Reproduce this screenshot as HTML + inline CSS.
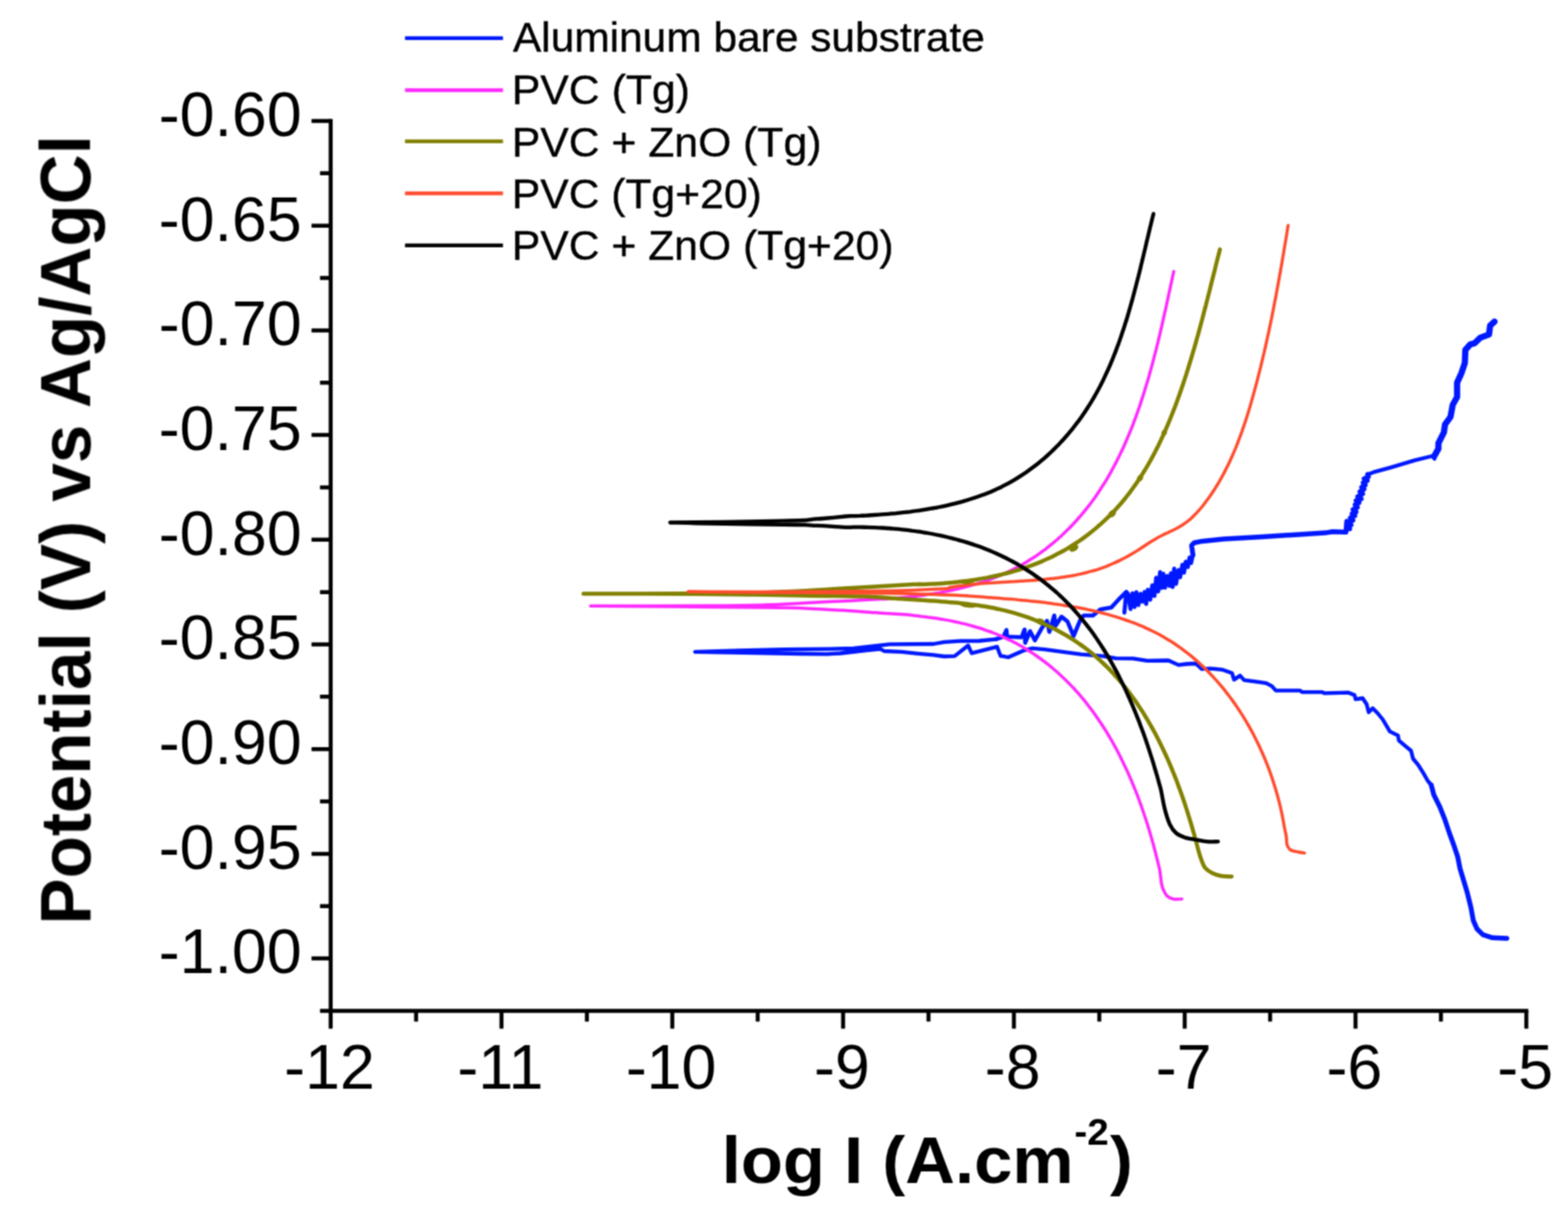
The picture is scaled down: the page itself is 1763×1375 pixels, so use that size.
<!DOCTYPE html>
<html><head><meta charset="utf-8"><style>
html,body{margin:0;padding:0;background:#fff;}
svg{display:block}
.tl{font-family:'Liberation Sans', sans-serif;font-size:70.5px;fill:#000}
.at{font-family:'Liberation Sans',sans-serif;font-weight:bold;font-size:77px;fill:#000}
.lg{font-family:'Liberation Sans',sans-serif;font-size:45.5px;fill:#000;stroke:#000;stroke-width:0.4px}
</style></head><body>
<svg width="1763" height="1375" viewBox="0 0 1763 1375">
<defs><filter id="bl" x="0" y="0" width="1763" height="1375" filterUnits="userSpaceOnUse" color-interpolation-filters="sRGB"><feConvolveMatrix order="3" kernelMatrix="1 2 1 2 4 2 1 2 1" divisor="16" edgeMode="duplicate"/></filter></defs>
<rect width="1763" height="1375" fill="#fff"/>
<g filter="url(#bl)">
<path d="M371.8 133.75V1138.65M369.55 1136.4H1718.4" stroke="#000" stroke-width="4.5" fill="none"/>
<path d="M350.3 136.00H371.8M359.8 194.85H371.8M350.3 253.70H371.8M359.8 312.55H371.8M350.3 371.40H371.8M359.8 430.25H371.8M350.3 489.10H371.8M359.8 547.95H371.8M350.3 606.80H371.8M359.8 665.65H371.8M350.3 724.50H371.8M359.8 783.35H371.8M350.3 842.20H371.8M359.8 901.05H371.8M350.3 959.90H371.8M359.8 1018.75H371.8M350.3 1077.60H371.8M359.8 1136.45H371.8M371.80 1136.4V1156.4M467.83 1136.4V1148.4M563.85 1136.4V1156.4M659.88 1136.4V1148.4M755.90 1136.4V1156.4M851.92 1136.4V1148.4M947.95 1136.4V1156.4M1043.98 1136.4V1148.4M1140.00 1136.4V1156.4M1236.03 1136.4V1148.4M1332.05 1136.4V1156.4M1428.08 1136.4V1148.4M1524.10 1136.4V1156.4M1620.12 1136.4V1148.4M1716.15 1136.4V1156.4" stroke="#000" stroke-width="4.5" fill="none"/>
<text x="339.3" y="152.8" text-anchor="end" class="tl">-0.60</text>
<text x="339.3" y="270.5" text-anchor="end" class="tl">-0.65</text>
<text x="339.3" y="388.2" text-anchor="end" class="tl">-0.70</text>
<text x="339.3" y="505.9" text-anchor="end" class="tl">-0.75</text>
<text x="339.3" y="623.6" text-anchor="end" class="tl">-0.80</text>
<text x="339.3" y="741.3" text-anchor="end" class="tl">-0.85</text>
<text x="339.3" y="859.0" text-anchor="end" class="tl">-0.90</text>
<text x="339.3" y="976.7" text-anchor="end" class="tl">-0.95</text>
<text x="339.3" y="1094.4" text-anchor="end" class="tl">-1.00</text>
<text x="370.5" y="1224" text-anchor="middle" class="tl">-12</text>
<text x="562.6" y="1224" text-anchor="middle" class="tl">-11</text>
<text x="754.6" y="1224" text-anchor="middle" class="tl">-10</text>
<text x="946.7" y="1224" text-anchor="middle" class="tl">-9</text>
<text x="1138.7" y="1224" text-anchor="middle" class="tl">-8</text>
<text x="1330.8" y="1224" text-anchor="middle" class="tl">-7</text>
<text x="1522.8" y="1224" text-anchor="middle" class="tl">-6</text>
<text x="1714.9" y="1224" text-anchor="middle" class="tl">-5</text>
<text transform="translate(101.3 1039.5) rotate(-90) scale(0.985 1)" class="at" style="font-size:79px">Potential (V) vs Ag/AgCl</text>
<text transform="translate(811.5 1330) scale(1.032 1)" class="at" style="font-size:75px">log I (A.cm</text>
<text transform="translate(1208.0 1286.5) scale(1.032 1)" class="at" style="font-size:42px">-2</text>
<text transform="translate(1248.0 1330) scale(1.032 1)" class="at" style="font-size:75px">)</text>
<path d="M455.4 42.8H565.5" stroke="#0018ff" stroke-width="4.3"/>
<text transform="translate(576.7 57.7) scale(1.0495 1)" class="lg">Aluminum bare substrate</text>
<path d="M455.4 101.3H565.5" stroke="#ff28ff" stroke-width="4.3"/>
<text transform="translate(575.5 116.7) scale(1.0562 1)" class="lg">PVC (Tg)</text>
<path d="M455.4 158.9H565.5" stroke="#818000" stroke-width="4.3"/>
<text transform="translate(575.5 175.7) scale(1.0553 1)" class="lg">PVC + ZnO (Tg)</text>
<path d="M455.4 217.4H565.5" stroke="#ff4b2d" stroke-width="4.3"/>
<text transform="translate(575.5 233.7) scale(1.0538 1)" class="lg">PVC (Tg+20)</text>
<path d="M455.4 275.8H565.5" stroke="#000" stroke-width="4.3"/>
<text transform="translate(575.5 291.8) scale(1.0543 1)" class="lg">PVC + ZnO (Tg+20)</text>
<path d="M1680.3,361.7L1675.4,366.1 1674.2,376.0 1664.3,379.7 1658.1,385.8 1653.2,387.1 1647.6,393.3 1647.0,408.1 1643.3,419.2 1638.3,430.3 1638.3,446.4 1633.4,455.1 1630.9,468.7 1624.7,477.3 1623.5,486.0 1617.3,498.3 1617.3,504.5 1612.4,513.2" stroke="#0018ff" stroke-width="7" fill="none" stroke-linejoin="round" stroke-linecap="round"/>
<path d="M1612.4,513.2L1612.9,515.9 1611.2,512.5 1590.3,517.6 1565.3,525.1 1544.3,530.9 1537.7,533.4" stroke="#0018ff" stroke-width="4.3" fill="none" stroke-linejoin="round" stroke-linecap="round"/>
<path d="M1537.7,533.4L1538.6,536.0 1533.8,538.2 1537.3,540.3 1532.8,542.7 1535.0,545.3 1531.0,547.8 1533.7,549.9 1529.1,552.9 1532.1,555.2 1526.6,558.3 1530.5,560.8 1524.7,562.9 1528.0,565.2 1523.7,567.4 1526.2,570.3 1521.3,573.0 1524.7,575.5 1520.3,577.6 1523.3,579.8 1518.3,582.3 1521.2,585.0 1516.0,587.4 1519.1,590.2 1514.3,592.9 1517.6,594.5 1514.2,586.1 1513.4,598.2 1498.4,597.8 1490.0,599.1 1463.6,600.7 1420.0,603.6 1376.0,606.0 1352.0,608.4 1342.7,610.2 1339.8,613.1 1341.3,624.0" stroke="#0018ff" stroke-width="5.5" fill="none" stroke-linejoin="round" stroke-linecap="round"/>
<path d="M1341.3,624.0L1341.0,624.8 1339.2,633.0 1337.5,626.8 1335.5,637.5 1333.3,631.5 1331.2,643.8 1329.5,634.9 1326.9,648.9 1325.0,640.9 1322.3,656.4 1320.2,639.3 1318.5,659.9 1316.6,644.5 1314.8,658.6 1312.3,647.5 1310.0,660.7 1307.9,645.0 1306.2,660.9 1304.4,643.2 1302.3,664.9 1300.0,649.5 1298.0,670.0 1295.6,658.1 1293.3,674.2 1290.6,663.1 1288.7,678.9 1286.9,665.5 1284.4,676.5 1282.3,667.7 1279.9,680.2 1277.6,665.7 1275.6,682.5 1273.3,667.1 1271.1,684.7 1268.4,668.0 1266.4,665.5 1264.2,688.7 1266.4,665.5 1257.6,674.2 1249.6,682.9 1240.9,684.4 1237.1,685.2 1228.9,692.0 1218.7,692.0 1215.3,695.4 1207.1,715.2 1200.3,698.8 1193.5,693.4 1186.7,703.6 1185.4,692.0 1179.9,710.4 1177.2,698.1 1171.7,705.6 1163.6,719.9 1158.1,709.7 1152.7,722.7 1152.0,707.7 1148.6,716.5 1132.3,715.8 1131.6,708.4 1128.2,715.8 1120.0,718.6" stroke="#0018ff" stroke-width="4.6" fill="none" stroke-linejoin="round" stroke-linecap="round"/>
<path d="M1120.0,718.6L1101.2,720.5 1080.0,720.6 1061.5,721.8 1049.6,724.0 1000.0,724.4 960.0,729.0 933.0,729.6 882.0,730.2 831.0,731.5 781.5,732.9 850.0,734.2 900.0,735.0 930.0,735.3 945.0,734.5 975.0,731.0 990.0,729.6 994.0,732.0 1013.8,732.8 1032.1,734.8 1049.6,736.4 1061.5,738.0 1073.4,737.6 1088.5,725.7 1092.5,734.4 1121.1,727.2 1125.0,737.6 1126.8,737.6 1133.6,739.0 1150.6,731.5 1160.8,728.8 1174.5,730.1 1194.9,732.9 1215.3,735.6 1240.0,737.6 1254.8,740.2 1274.0,740.3 1290.0,742.9 1313.7,742.5 1325.1,747.6 1334.2,746.5 1344.4,746.0 1351.2,752.2 1361.4,751.6 1373.9,752.8 1385.2,756.7 1387.5,764.1 1394.3,759.6 1398.8,764.7 1415.8,766.9 1423.8,768.1 1430.0,771.3 1434.5,776.4 1461.8,776.4 1464.0,778.2 1486.7,778.2 1489.0,779.3 1516.2,778.7 1523.0,781.6 1524.2,786.1 1532.1,785.0 1536.6,791.8 1538.9,800.8 1543.4,796.3 1549.1,802.0 1554.8,809.0 1562.7,822.4 1571.8,826.9 1572.9,832.6 1580.9,839.4 1586.5,844.0 1588.8,853.0 1594.5,859.8 1600.2,868.9 1605.4,878.0 1609.2,882.5" stroke="#0018ff" stroke-width="4.3" fill="none" stroke-linejoin="round" stroke-linecap="round"/>
<path d="M1609.2,882.5L1612.1,893.5 1618.8,906.9 1624.2,920.4 1629.6,936.5 1635.0,951.3 1639.0,963.4 1641.7,976.9 1645.8,990.4 1649.8,1003.8 1653.8,1020.0 1656.5,1034.8 1660.6,1044.2 1667.3,1050.9 1678.1,1054.3 1694.2,1055.0" stroke="#0018ff" stroke-width="5.5" fill="none" stroke-linejoin="round" stroke-linecap="round"/>
<path d="M1319.7,305.3C1319.4,306.6 1318.6,310.5 1318.0,313.1C1317.5,315.7 1316.9,318.3 1316.3,320.9C1315.8,323.5 1315.2,326.1 1314.6,328.7C1314.0,331.3 1313.5,334.0 1312.9,336.6C1312.3,339.3 1311.8,341.9 1311.2,344.6C1310.6,347.2 1310.0,349.9 1309.4,352.5C1308.8,355.2 1308.2,357.8 1307.6,360.5C1307.0,363.2 1306.4,365.8 1305.8,368.5C1305.1,371.2 1304.5,373.9 1303.9,376.5C1303.2,379.2 1302.6,381.9 1302.0,384.6C1301.3,387.2 1300.6,389.9 1300.0,392.6C1299.3,395.3 1298.6,398.0 1297.9,400.6C1297.2,403.3 1296.5,406.0 1295.8,408.7C1295.1,411.3 1294.4,414.0 1293.6,416.7C1292.9,419.3 1292.1,422.0 1291.4,424.7C1290.6,427.3 1289.8,430.0 1289.0,432.6C1288.2,435.3 1287.4,437.9 1286.6,440.6C1285.8,443.2 1284.9,445.8 1284.1,448.4C1283.2,451.1 1282.3,453.7 1281.5,456.3C1280.6,458.9 1279.7,461.5 1278.7,464.1C1277.8,466.7 1276.9,469.3 1275.9,471.9C1274.9,474.4 1274.0,477.0 1273.0,479.6C1272.0,482.1 1270.9,484.6 1269.9,487.2C1268.9,489.7 1267.8,492.2 1266.7,494.7C1265.6,497.2 1264.5,499.7 1263.4,502.2C1262.3,504.7 1261.1,507.2 1259.9,509.6C1258.8,512.1 1257.6,514.5 1256.3,516.9C1255.1,519.4 1253.9,521.8 1252.6,524.1C1251.3,526.5 1250.0,528.9 1248.7,531.3C1247.4,533.6 1246.0,536.0 1244.7,538.3C1243.3,540.6 1241.9,542.9 1240.4,545.2C1239.0,547.5 1237.5,549.7 1236.0,552.0C1234.6,554.2 1233.0,556.5 1231.5,558.7C1230.0,560.9 1228.4,563.0 1226.8,565.2C1225.2,567.4 1223.5,569.5 1221.8,571.6C1220.2,573.7 1218.5,575.8 1216.7,577.9C1215.0,580.0 1213.2,582.0 1211.4,584.0C1209.6,586.0 1207.8,588.0 1205.9,590.0C1204.1,592.0 1202.2,593.9 1200.2,595.8C1198.3,597.7 1196.3,599.6 1194.3,601.5C1192.3,603.3 1190.3,605.2 1188.3,607.0C1186.2,608.7 1184.1,610.5 1182.0,612.2C1179.9,613.9 1177.8,615.6 1175.6,617.3C1173.4,618.9 1171.2,620.6 1169.0,622.1C1166.8,623.7 1164.6,625.3 1162.3,626.8C1160.0,628.3 1157.7,629.7 1155.4,631.1C1153.1,632.6 1150.7,633.9 1148.4,635.3C1146.0,636.6 1143.6,637.9 1141.2,639.1C1138.8,640.4 1136.4,641.6 1133.9,642.8C1131.5,643.9 1129.0,645.0 1126.5,646.1C1124.0,647.2 1121.5,648.2 1119.0,649.2C1116.5,650.2 1113.9,651.1 1111.3,652.1C1108.8,653.0 1106.2,653.9 1103.6,654.7C1101.0,655.5 1098.4,656.3 1095.8,657.1C1093.2,657.9 1090.6,658.6 1087.9,659.3C1085.3,660.0 1082.7,660.7 1080.0,661.4C1077.3,662.0 1074.7,662.6 1072.0,663.2C1069.3,663.8 1066.6,664.3 1064.0,664.9C1061.3,665.4 1058.6,665.9 1055.9,666.4C1053.2,666.8 1050.5,667.3 1047.8,667.7C1045.1,668.1 1042.3,668.5 1039.6,668.9C1036.9,669.3 1034.2,669.6 1031.5,670.0C1028.8,670.3 1026.1,670.6 1023.4,670.9C1020.6,671.2 1017.9,671.5 1015.2,671.7C1012.5,672.0 1009.8,672.2 1007.1,672.4C1004.4,672.7 1001.7,672.9 999.0,673.1C996.4,673.3 998.3,673.2 991.0,673.6C983.7,674.0 965.2,674.9 955.3,675.4C945.4,675.9 941.4,676.1 931.5,676.6C921.6,677.1 907.6,677.8 895.7,678.4C883.8,679.0 876.0,679.7 860.0,680.1C844.0,680.5 832.7,680.8 800.0,681.0C767.3,681.2 686.7,681.2 664.0,681.2L664.0,681.2C680.0,681.3 727.3,681.7 760.0,682.0C792.7,682.3 837.4,682.9 860.0,683.1C882.6,683.4 881.8,683.0 895.7,683.5C909.6,684.0 929.5,685.3 943.4,686.1C957.3,686.9 971.8,688.0 979.1,688.5C986.4,689.0 984.4,688.8 987.0,688.9C989.7,689.0 992.4,689.2 995.1,689.4C997.7,689.5 1000.4,689.7 1003.1,689.9C1005.8,690.1 1008.5,690.3 1011.2,690.5C1014.0,690.7 1016.7,690.9 1019.4,691.1C1022.1,691.4 1024.8,691.7 1027.6,691.9C1030.3,692.2 1033.0,692.5 1035.7,692.9C1038.5,693.2 1041.2,693.5 1043.9,693.9C1046.6,694.2 1049.4,694.6 1052.1,695.0C1054.8,695.5 1057.5,695.9 1060.2,696.4C1062.9,696.9 1065.6,697.3 1068.3,697.9C1071.0,698.4 1073.7,699.0 1076.4,699.5C1079.0,700.1 1081.7,700.7 1084.4,701.4C1087.0,702.1 1089.6,702.7 1092.3,703.5C1094.9,704.2 1097.5,705.0 1100.1,705.8C1102.7,706.5 1105.3,707.4 1107.8,708.3C1110.4,709.1 1112.9,710.1 1115.5,711.0C1118.0,712.0 1120.5,713.0 1123.0,714.0C1125.5,715.1 1127.9,716.2 1130.4,717.3C1132.8,718.4 1135.2,719.6 1137.6,720.8C1140.0,722.0 1142.4,723.3 1144.7,724.6C1147.1,725.9 1149.4,727.2 1151.7,728.6C1154.0,730.0 1156.3,731.4 1158.5,732.8C1160.8,734.3 1163.0,735.8 1165.2,737.3C1167.4,738.8 1169.6,740.4 1171.8,742.0C1173.9,743.6 1176.0,745.2 1178.2,746.9C1180.3,748.5 1182.3,750.2 1184.4,752.0C1186.4,753.7 1188.4,755.4 1190.4,757.2C1192.4,759.0 1194.4,760.9 1196.3,762.7C1198.3,764.6 1200.2,766.5 1202.1,768.4C1204.0,770.3 1205.8,772.3 1207.6,774.2C1209.5,776.2 1211.3,778.2 1213.0,780.2C1214.8,782.3 1216.5,784.3 1218.3,786.4C1220.0,788.5 1221.7,790.6 1223.3,792.8C1225.0,794.9 1226.6,797.1 1228.2,799.2C1229.8,801.4 1231.4,803.6 1233.0,805.9C1234.5,808.1 1236.0,810.3 1237.5,812.6C1239.1,814.9 1240.5,817.2 1242.0,819.5C1243.4,821.8 1244.9,824.1 1246.3,826.5C1247.7,828.8 1249.0,831.2 1250.4,833.5C1251.7,835.9 1253.1,838.3 1254.4,840.7C1255.7,843.2 1257.0,845.6 1258.2,848.0C1259.5,850.5 1260.7,852.9 1261.9,855.4C1263.1,857.9 1264.3,860.4 1265.5,862.9C1266.6,865.3 1267.8,867.8 1268.9,870.4C1270.0,872.9 1271.1,875.4 1272.2,877.9C1273.3,880.5 1274.3,883.0 1275.4,885.6C1276.4,888.1 1277.4,890.7 1278.4,893.2C1279.4,895.8 1280.4,898.4 1281.3,901.0C1282.2,903.5 1283.2,906.1 1284.1,908.7C1285.0,911.3 1285.9,913.9 1286.7,916.5C1287.6,919.1 1288.5,921.7 1289.3,924.2C1290.1,926.8 1290.9,929.4 1291.7,932.0C1292.5,934.6 1293.3,937.2 1294.0,939.8C1294.8,942.4 1295.5,945.0 1296.2,947.6C1297.0,950.2 1297.6,952.8 1298.3,955.4C1299.0,958.0 1299.7,960.5 1300.3,963.1C1301.0,965.7 1301.6,968.3 1302.2,970.8C1302.8,973.4 1303.3,974.5 1304.0,978.5C1304.7,982.5 1305.4,990.8 1306.2,994.7C1307.0,998.7 1307.8,1000.1 1308.9,1002.2C1310.0,1004.4 1310.9,1006.2 1312.6,1007.6C1314.3,1009.0 1316.4,1010.3 1319.1,1010.8C1321.8,1011.3 1327.2,1010.8 1328.8,1010.8" stroke="#ff28ff" stroke-width="3.5" fill="none" stroke-linejoin="round" stroke-linecap="round"/>
<path d="M1371.6,280.4C1371.3,281.7 1370.3,285.7 1369.6,288.3C1368.9,290.9 1368.3,293.6 1367.6,296.2C1367.0,298.8 1366.3,301.4 1365.7,304.1C1365.0,306.7 1364.3,309.3 1363.7,311.9C1363.0,314.6 1362.4,317.2 1361.7,319.8C1361.1,322.4 1360.4,325.0 1359.8,327.6C1359.1,330.3 1358.4,332.9 1357.8,335.5C1357.1,338.1 1356.4,340.7 1355.8,343.3C1355.1,345.9 1354.4,348.5 1353.7,351.1C1353.1,353.8 1352.4,356.4 1351.7,359.0C1351.0,361.6 1350.3,364.2 1349.6,366.8C1348.9,369.4 1348.2,372.0 1347.5,374.6C1346.8,377.2 1346.0,379.8 1345.3,382.4C1344.6,385.0 1343.8,387.6 1343.1,390.2C1342.4,392.8 1341.6,395.4 1340.8,397.9C1340.1,400.5 1339.3,403.1 1338.5,405.7C1337.7,408.3 1336.9,410.9 1336.1,413.5C1335.3,416.1 1334.5,418.7 1333.7,421.2C1332.8,423.8 1332.0,426.4 1331.1,429.0C1330.3,431.6 1329.4,434.2 1328.5,436.8C1327.6,439.3 1326.7,441.9 1325.8,444.5C1324.9,447.1 1324.0,449.6 1323.0,452.2C1322.1,454.8 1321.1,457.3 1320.1,459.9C1319.1,462.4 1318.1,465.0 1317.1,467.5C1316.1,470.1 1315.1,472.6 1314.0,475.1C1313.0,477.7 1311.9,480.2 1310.8,482.7C1309.7,485.2 1308.6,487.7 1307.4,490.2C1306.3,492.6 1305.1,495.1 1304.0,497.6C1302.8,500.0 1301.6,502.5 1300.3,504.9C1299.1,507.3 1297.9,509.7 1296.6,512.1C1295.3,514.5 1294.0,516.9 1292.7,519.3C1291.4,521.6 1290.0,524.0 1288.6,526.3C1287.2,528.6 1285.8,530.9 1284.4,533.2C1283.0,535.5 1281.5,537.7 1280.0,540.0C1278.5,542.2 1277.0,544.4 1275.4,546.6C1273.9,548.8 1272.3,551.0 1270.7,553.1C1269.1,555.3 1267.4,557.4 1265.8,559.5C1264.1,561.6 1262.4,563.6 1260.6,565.7C1258.9,567.7 1257.1,569.7 1255.3,571.7C1253.5,573.7 1251.7,575.6 1249.8,577.5C1247.9,579.4 1246.0,581.3 1244.1,583.2C1242.2,585.0 1240.2,586.9 1238.2,588.7C1236.2,590.5 1234.2,592.2 1232.2,593.9C1230.1,595.7 1228.0,597.4 1225.9,599.0C1223.8,600.7 1221.7,602.3 1219.5,603.9C1217.4,605.5 1215.2,607.0 1213.0,608.5C1210.7,610.0 1208.5,611.5 1206.2,613.0C1204.0,614.4 1201.7,615.8 1199.4,617.1C1197.0,618.5 1194.7,619.8 1192.3,621.1C1190.0,622.4 1187.6,623.6 1185.2,624.8C1182.7,626.0 1180.3,627.2 1177.8,628.3C1175.4,629.4 1172.9,630.5 1170.4,631.6C1167.9,632.6 1165.4,633.6 1162.8,634.6C1160.3,635.6 1157.8,636.5 1155.2,637.4C1152.6,638.3 1150.0,639.1 1147.4,640.0C1144.8,640.8 1142.2,641.6 1139.6,642.4C1137.0,643.1 1134.3,643.8 1131.7,644.5C1129.0,645.2 1126.4,645.9 1123.7,646.5C1121.0,647.1 1118.3,647.7 1115.7,648.3C1113.0,648.8 1110.3,649.4 1107.6,649.9C1104.9,650.4 1102.2,650.9 1099.5,651.3C1096.8,651.7 1094.1,652.2 1091.3,652.5C1088.6,652.9 1085.9,653.3 1083.2,653.6C1080.5,654.0 1077.8,654.3 1075.1,654.5C1072.4,654.8 1069.6,655.1 1066.9,655.3C1064.2,655.5 1061.5,655.7 1058.8,655.9C1056.1,656.1 1053.4,656.3 1050.8,656.4C1048.1,656.5 1045.4,656.6 1042.7,656.7C1040.0,656.8 1037.4,656.9 1034.7,656.9C1032.1,657.0 1041.0,656.2 1026.8,657.0C1012.6,657.8 970.4,660.2 949.3,661.5C928.2,662.8 916.5,663.7 900.0,664.5C883.5,665.3 870.0,666.0 850.0,666.5C830.0,667.0 812.3,667.1 780.0,667.3C747.7,667.4 676.7,667.4 656.0,667.4L656.0,667.4C676.7,667.5 747.7,667.6 780.0,667.8C812.3,668.0 830.0,668.2 850.0,668.5C870.0,668.8 880.1,669.1 900.0,669.5C919.9,669.9 951.5,670.0 969.6,670.6C987.8,671.2 1001.0,672.5 1008.9,673.0C1016.8,673.5 1014.4,673.4 1017.1,673.5C1019.8,673.7 1022.5,673.9 1025.3,674.1C1028.0,674.3 1030.8,674.4 1033.5,674.6C1036.2,674.8 1039.0,674.9 1041.7,675.1C1044.5,675.3 1047.2,675.5 1050.0,675.6C1052.7,675.8 1055.4,676.0 1058.2,676.2C1060.9,676.4 1063.7,676.7 1066.4,676.9C1069.2,677.1 1071.9,677.4 1074.6,677.6C1077.4,677.9 1080.1,678.2 1082.8,678.5C1085.6,678.8 1088.3,679.1 1091.0,679.5C1093.7,679.8 1096.5,680.2 1099.2,680.6C1101.9,681.0 1104.6,681.4 1107.3,681.8C1110.0,682.3 1112.7,682.8 1115.4,683.3C1118.1,683.8 1120.8,684.4 1123.4,684.9C1126.1,685.5 1128.8,686.2 1131.5,686.8C1134.1,687.5 1136.8,688.2 1139.4,688.9C1142.0,689.7 1144.7,690.5 1147.3,691.3C1149.9,692.1 1152.5,693.0 1155.1,693.9C1157.7,694.9 1160.3,695.8 1162.9,696.8C1165.4,697.8 1168.0,698.9 1170.5,700.0C1173.0,701.1 1175.6,702.2 1178.1,703.4C1180.6,704.5 1183.0,705.8 1185.5,707.0C1187.9,708.3 1190.4,709.6 1192.8,710.9C1195.2,712.2 1197.6,713.6 1199.9,715.0C1202.3,716.4 1204.6,717.9 1206.9,719.4C1209.2,720.9 1211.5,722.4 1213.7,724.0C1216.0,725.5 1218.2,727.1 1220.4,728.8C1222.5,730.4 1224.7,732.1 1226.8,733.8C1228.9,735.5 1231.0,737.3 1233.1,739.1C1235.1,740.9 1237.1,742.7 1239.1,744.5C1241.1,746.4 1243.1,748.3 1245.0,750.2C1246.9,752.1 1248.8,754.1 1250.7,756.1C1252.5,758.1 1254.4,760.1 1256.2,762.1C1258.0,764.2 1259.7,766.2 1261.5,768.3C1263.2,770.4 1264.9,772.6 1266.6,774.7C1268.3,776.9 1270.0,779.1 1271.6,781.3C1273.2,783.5 1274.8,785.7 1276.4,787.9C1278.0,790.2 1279.5,792.5 1281.0,794.8C1282.6,797.1 1284.1,799.4 1285.5,801.7C1287.0,804.1 1288.5,806.4 1289.9,808.8C1291.3,811.2 1292.7,813.6 1294.0,816.0C1295.4,818.4 1296.8,820.8 1298.1,823.3C1299.4,825.7 1300.7,828.2 1302.0,830.7C1303.2,833.2 1304.5,835.7 1305.7,838.2C1306.9,840.7 1308.1,843.2 1309.3,845.7C1310.5,848.3 1311.6,850.8 1312.8,853.4C1313.9,855.9 1315.0,858.5 1316.1,861.0C1317.2,863.6 1318.2,866.2 1319.3,868.8C1320.3,871.4 1321.4,874.0 1322.4,876.5C1323.4,879.1 1324.4,881.8 1325.3,884.4C1326.3,887.0 1327.2,889.6 1328.2,892.2C1329.1,894.8 1330.0,897.4 1330.9,900.1C1331.8,902.7 1332.7,905.3 1333.5,907.9C1334.4,910.6 1335.2,913.2 1336.0,915.8C1336.8,918.4 1337.6,921.0 1338.4,923.6C1339.2,926.3 1340.0,928.9 1340.7,931.5C1341.5,934.1 1342.2,936.7 1343.0,939.3C1343.7,941.9 1344.4,944.5 1345.1,947.1C1345.8,949.7 1346.2,951.7 1347.1,954.8C1348.0,957.9 1349.1,962.2 1350.4,965.6C1351.7,969.0 1352.6,972.6 1354.7,975.3C1356.8,978.0 1360.1,980.1 1363.3,981.7C1366.5,983.3 1370.5,984.4 1374.1,985.0C1377.7,985.6 1383.0,985.4 1384.8,985.5" stroke="#818000" stroke-width="4.5" fill="none" stroke-linejoin="round" stroke-linecap="round"/>
<path d="M1448.3,253.5C1448.1,254.8 1447.4,258.9 1447.0,261.6C1446.6,264.2 1446.1,266.9 1445.7,269.6C1445.2,272.3 1444.8,275.0 1444.3,277.6C1443.9,280.3 1443.5,283.0 1443.0,285.7C1442.5,288.3 1442.1,291.0 1441.6,293.7C1441.2,296.3 1440.7,299.0 1440.2,301.7C1439.8,304.3 1439.3,307.0 1438.8,309.6C1438.4,312.3 1437.9,315.0 1437.4,317.6C1436.9,320.3 1436.4,322.9 1435.9,325.6C1435.4,328.2 1435.0,330.9 1434.5,333.5C1433.9,336.2 1433.4,338.8 1432.9,341.5C1432.4,344.1 1431.9,346.8 1431.4,349.4C1430.8,352.1 1430.3,354.7 1429.8,357.3C1429.2,360.0 1428.7,362.6 1428.1,365.3C1427.6,367.9 1427.0,370.5 1426.5,373.2C1425.9,375.8 1425.3,378.4 1424.7,381.1C1424.2,383.7 1423.6,386.3 1423.0,389.0C1422.4,391.6 1421.8,394.2 1421.2,396.9C1420.5,399.5 1419.9,402.1 1419.3,404.8C1418.7,407.4 1418.0,410.0 1417.4,412.7C1416.7,415.3 1416.1,417.9 1415.4,420.5C1414.7,423.2 1414.1,425.8 1413.4,428.4C1412.7,431.1 1412.0,433.7 1411.3,436.3C1410.6,438.9 1409.9,441.6 1409.1,444.2C1408.4,446.8 1407.7,449.4 1406.9,452.1C1406.2,454.7 1405.4,457.3 1404.6,459.9C1403.8,462.5 1403.0,465.1 1402.2,467.7C1401.4,470.3 1400.5,472.9 1399.7,475.5C1398.8,478.1 1397.9,480.7 1397.0,483.2C1396.2,485.8 1395.2,488.4 1394.3,490.9C1393.3,493.4 1392.4,496.0 1391.4,498.5C1390.4,501.0 1389.4,503.6 1388.3,506.1C1387.3,508.5 1386.2,511.0 1385.1,513.5C1384.0,516.0 1382.9,518.4 1381.7,520.9C1380.5,523.3 1379.4,525.7 1378.1,528.1C1376.9,530.5 1375.6,532.9 1374.3,535.3C1373.1,537.6 1371.7,540.0 1370.4,542.3C1369.0,544.6 1367.6,546.9 1366.2,549.2C1364.7,551.5 1363.2,553.7 1361.7,555.9C1360.2,558.2 1358.6,560.4 1357.0,562.5C1355.4,564.7 1353.8,566.9 1352.1,569.0C1350.4,571.1 1348.6,573.2 1346.8,575.2C1345.0,577.2 1343.2,579.1 1341.2,580.9C1339.3,582.8 1337.3,584.5 1335.2,586.2C1333.1,587.8 1330.9,589.3 1328.7,590.8C1326.4,592.2 1324.1,593.5 1321.7,594.7C1319.3,595.9 1316.9,597.1 1314.4,598.2C1312.0,599.4 1309.5,600.5 1307.1,601.7C1304.7,602.9 1302.3,604.0 1300.0,605.4C1297.7,606.7 1295.4,608.1 1293.2,609.5C1290.9,611.0 1288.8,612.5 1286.5,614.0C1284.3,615.5 1282.1,616.9 1279.8,618.4C1277.6,619.8 1275.3,621.2 1273.0,622.5C1270.7,623.9 1268.3,625.2 1266.0,626.5C1263.7,627.7 1261.3,628.9 1258.9,630.1C1256.5,631.3 1254.1,632.4 1251.6,633.5C1249.2,634.6 1246.7,635.6 1244.3,636.6C1241.8,637.5 1239.3,638.5 1236.8,639.3C1234.3,640.2 1231.7,641.0 1229.2,641.7C1226.6,642.5 1224.0,643.2 1221.5,643.8C1218.9,644.5 1216.3,645.1 1213.6,645.6C1211.0,646.2 1208.4,646.7 1205.8,647.2C1203.1,647.7 1200.4,648.1 1197.8,648.5C1195.1,649.0 1192.4,649.3 1189.7,649.7C1187.1,650.0 1184.4,650.4 1181.7,650.6C1178.9,650.9 1176.2,651.2 1173.5,651.5C1170.8,651.7 1168.1,652.0 1165.3,652.2C1162.6,652.4 1159.9,652.6 1157.1,652.8C1154.4,653.0 1151.6,653.1 1148.9,653.3C1146.2,653.5 1143.4,653.6 1140.7,653.8C1137.9,653.9 1135.2,654.1 1132.4,654.2C1129.7,654.4 1126.9,654.6 1124.2,654.7C1121.5,654.9 1118.7,655.1 1116.0,655.2C1113.3,655.4 1110.6,655.6 1107.8,655.8C1105.1,656.0 1102.4,656.2 1099.7,656.5C1097.0,656.7 1094.3,657.0 1091.6,657.2C1088.9,657.5 1086.3,657.8 1083.6,658.2C1080.9,658.5 1078.3,658.8 1075.7,659.2C1073.0,659.6 1070.4,660.0 1067.8,660.5C1065.2,661.0 1071.3,661.4 1060.0,662.0C1048.7,662.6 1026.7,663.8 1000.0,664.3C973.3,664.8 937.8,665.1 900.0,665.3C862.2,665.5 794.6,665.3 773.5,665.3L773.5,665.3C794.6,665.5 862.2,666.0 900.0,666.3C937.8,666.6 970.0,666.5 1000.0,667.0C1030.0,667.5 1065.4,668.9 1080.0,669.4C1094.6,669.9 1085.2,669.8 1087.8,670.0C1090.4,670.2 1093.0,670.4 1095.7,670.5C1098.3,670.7 1100.9,670.9 1103.6,671.1C1106.2,671.3 1108.9,671.5 1111.6,671.7C1114.3,671.9 1117.0,672.1 1119.7,672.3C1122.4,672.5 1125.1,672.7 1127.8,672.9C1130.5,673.1 1133.2,673.4 1136.0,673.6C1138.7,673.8 1141.4,674.0 1144.1,674.3C1146.9,674.5 1149.6,674.8 1152.4,675.0C1155.1,675.3 1157.9,675.6 1160.6,675.9C1163.3,676.2 1166.1,676.5 1168.8,676.8C1171.6,677.1 1174.3,677.4 1177.1,677.8C1179.8,678.1 1182.6,678.5 1185.3,678.9C1188.1,679.2 1190.8,679.6 1193.5,680.1C1196.3,680.5 1199.0,680.9 1201.8,681.4C1204.5,681.8 1207.2,682.3 1209.9,682.8C1212.6,683.3 1215.3,683.8 1218.0,684.3C1220.7,684.9 1223.4,685.4 1226.1,686.0C1228.8,686.6 1231.5,687.2 1234.1,687.9C1236.8,688.5 1239.4,689.2 1242.1,689.9C1244.7,690.6 1247.3,691.3 1250.0,692.1C1252.6,692.8 1255.2,693.6 1257.7,694.4C1260.3,695.2 1262.9,696.1 1265.4,697.0C1268.0,697.8 1270.5,698.8 1273.0,699.7C1275.6,700.6 1278.1,701.6 1280.5,702.6C1283.0,703.7 1285.5,704.7 1287.9,705.8C1290.3,706.9 1292.8,708.0 1295.2,709.2C1297.6,710.4 1299.9,711.6 1302.3,712.8C1304.6,714.1 1307.0,715.4 1309.3,716.7C1311.6,718.0 1313.8,719.4 1316.1,720.8C1318.3,722.2 1320.6,723.7 1322.8,725.2C1324.9,726.7 1327.1,728.2 1329.3,729.8C1331.4,731.4 1333.5,733.0 1335.6,734.7C1337.7,736.3 1339.8,738.0 1341.8,739.7C1343.9,741.5 1345.9,743.2 1347.9,745.0C1349.9,746.8 1351.8,748.7 1353.8,750.5C1355.7,752.4 1357.6,754.3 1359.5,756.2C1361.4,758.2 1363.2,760.1 1365.0,762.1C1366.9,764.1 1368.7,766.1 1370.4,768.2C1372.2,770.2 1373.9,772.3 1375.7,774.4C1377.4,776.5 1379.0,778.7 1380.7,780.8C1382.4,783.0 1384.0,785.2 1385.6,787.4C1387.2,789.6 1388.8,791.8 1390.3,794.1C1391.8,796.4 1393.4,798.6 1394.8,800.9C1396.3,803.2 1397.8,805.6 1399.2,807.9C1400.6,810.3 1402.0,812.6 1403.4,815.0C1404.8,817.4 1406.1,819.8 1407.4,822.2C1408.7,824.6 1410.0,827.1 1411.2,829.5C1412.5,832.0 1413.7,834.5 1414.9,836.9C1416.1,839.4 1417.2,841.9 1418.4,844.4C1419.5,846.9 1420.6,849.5 1421.7,852.0C1422.7,854.5 1423.7,857.1 1424.8,859.6C1425.8,862.2 1426.7,864.8 1427.7,867.3C1428.6,869.9 1429.5,872.5 1430.4,875.1C1431.3,877.7 1432.1,880.3 1432.9,882.9C1433.7,885.5 1434.5,888.1 1435.3,890.7C1436.0,893.3 1436.7,895.9 1437.4,898.5C1438.1,901.2 1438.8,903.8 1439.4,906.4C1440.0,909.0 1440.6,911.6 1441.2,914.3C1441.7,916.9 1442.2,919.5 1442.7,922.1C1443.2,924.8 1443.5,926.9 1444.1,930.0C1444.7,933.1 1445.8,937.4 1446.3,940.8C1446.8,944.2 1446.4,948.0 1447.3,950.5C1448.2,953.0 1449.4,954.6 1451.6,955.9C1453.8,957.1 1457.8,957.5 1460.3,958.0C1462.8,958.5 1465.6,958.9 1466.7,959.1" stroke="#ff4b2d" stroke-width="3.5" fill="none" stroke-linejoin="round" stroke-linecap="round"/>
<path d="M1296.9,240.4C1296.6,241.7 1295.6,245.5 1295.0,248.1C1294.4,250.6 1293.8,253.2 1293.1,255.8C1292.5,258.3 1291.9,260.9 1291.3,263.5C1290.7,266.1 1290.0,268.7 1289.4,271.3C1288.8,273.9 1288.2,276.6 1287.6,279.2C1286.9,281.8 1286.3,284.4 1285.7,287.1C1285.1,289.7 1284.4,292.3 1283.8,295.0C1283.1,297.6 1282.5,300.3 1281.9,302.9C1281.2,305.6 1280.6,308.2 1279.9,310.9C1279.2,313.5 1278.6,316.2 1277.9,318.8C1277.2,321.5 1276.5,324.1 1275.8,326.8C1275.1,329.4 1274.4,332.1 1273.7,334.7C1273.0,337.4 1272.2,340.0 1271.5,342.7C1270.7,345.3 1270.0,348.0 1269.2,350.6C1268.4,353.2 1267.7,355.9 1266.9,358.5C1266.1,361.1 1265.2,363.7 1264.4,366.3C1263.6,368.9 1262.7,371.6 1261.8,374.1C1261.0,376.7 1260.1,379.3 1259.2,381.9C1258.3,384.5 1257.3,387.1 1256.4,389.6C1255.5,392.2 1254.5,394.7 1253.5,397.3C1252.5,399.8 1251.5,402.3 1250.5,404.9C1249.4,407.4 1248.4,409.9 1247.3,412.4C1246.2,414.9 1245.1,417.3 1243.9,419.8C1242.8,422.2 1241.6,424.7 1240.5,427.1C1239.3,429.6 1238.0,432.0 1236.8,434.4C1235.5,436.8 1234.3,439.1 1233.0,441.5C1231.7,443.9 1230.3,446.2 1229.0,448.5C1227.6,450.9 1226.2,453.2 1224.8,455.4C1223.3,457.7 1221.9,460.0 1220.4,462.2C1218.9,464.5 1217.3,466.7 1215.8,468.9C1214.2,471.1 1212.7,473.3 1211.0,475.4C1209.4,477.5 1207.8,479.7 1206.1,481.8C1204.4,483.9 1202.7,485.9 1201.0,488.0C1199.2,490.0 1197.5,492.0 1195.7,494.0C1193.9,496.0 1192.1,498.0 1190.2,499.9C1188.3,501.8 1186.5,503.7 1184.5,505.6C1182.6,507.4 1180.7,509.3 1178.7,511.1C1176.8,512.9 1174.8,514.6 1172.7,516.4C1170.7,518.1 1168.7,519.8 1166.6,521.5C1164.5,523.1 1162.4,524.8 1160.2,526.3C1158.1,527.9 1155.9,529.5 1153.8,531.0C1151.6,532.5 1149.3,534.0 1147.1,535.4C1144.8,536.9 1142.6,538.3 1140.3,539.6C1138.0,541.0 1135.6,542.3 1133.3,543.6C1130.9,544.8 1128.6,546.1 1126.2,547.3C1123.8,548.5 1121.3,549.6 1118.9,550.7C1116.4,551.8 1113.9,552.9 1111.4,553.9C1108.9,554.9 1106.4,555.9 1103.9,556.8C1101.3,557.8 1098.8,558.7 1096.2,559.5C1093.6,560.4 1091.0,561.2 1088.4,562.0C1085.8,562.8 1083.2,563.6 1080.5,564.3C1077.9,565.0 1075.2,565.7 1072.6,566.4C1069.9,567.1 1067.2,567.7 1064.5,568.3C1061.8,568.9 1059.1,569.5 1056.4,570.0C1053.7,570.5 1051.0,571.1 1048.3,571.5C1045.5,572.0 1042.8,572.5 1040.1,572.9C1037.4,573.4 1034.6,573.8 1031.9,574.2C1029.1,574.5 1026.4,574.9 1023.6,575.3C1020.9,575.6 1018.2,575.9 1015.4,576.2C1012.7,576.5 1010.0,576.8 1007.2,577.1C1004.5,577.3 1001.7,577.6 999.0,577.8C996.3,578.0 993.6,578.2 990.9,578.4C988.2,578.6 985.4,578.8 982.8,579.0C980.1,579.2 977.4,579.3 974.7,579.5C972.0,579.6 969.4,579.7 966.7,579.9C964.1,580.0 961.4,580.1 958.8,580.2C956.2,580.3 956.6,580.0 951.0,580.5C945.4,581.0 931.0,582.5 925.0,583.0C919.0,583.5 918.3,583.3 915.0,583.6C911.7,583.9 910.8,584.7 905.0,585.0C899.2,585.3 890.3,585.4 880.0,585.6C869.7,585.8 859.2,586.1 843.0,586.4C826.8,586.7 797.9,587.0 783.0,587.2C768.1,587.4 758.4,587.5 753.5,587.5L753.5,587.5C758.4,587.6 768.1,588.0 783.0,588.3C797.9,588.6 826.8,589.0 843.0,589.3C859.2,589.5 869.7,589.6 880.0,589.8C890.3,589.9 899.2,590.0 905.0,590.2C910.8,590.4 911.7,590.6 915.0,590.8C918.3,591.0 919.0,590.9 925.0,591.2C931.0,591.5 945.3,592.6 951.0,592.8C956.7,593.0 956.4,592.7 959.1,592.7C961.8,592.7 964.5,592.7 967.2,592.7C969.9,592.7 972.6,592.8 975.4,592.8C978.1,592.9 980.8,593.0 983.6,593.1C986.3,593.2 989.1,593.3 991.8,593.5C994.6,593.7 997.3,593.8 1000.1,594.0C1002.8,594.2 1005.6,594.5 1008.3,594.7C1011.1,595.0 1013.8,595.3 1016.6,595.6C1019.3,595.9 1022.1,596.2 1024.8,596.6C1027.6,596.9 1030.3,597.3 1033.1,597.7C1035.8,598.1 1038.6,598.6 1041.3,599.0C1044.0,599.5 1046.8,600.0 1049.5,600.5C1052.2,601.0 1054.9,601.6 1057.6,602.2C1060.3,602.8 1063.0,603.4 1065.7,604.0C1068.4,604.7 1071.1,605.3 1073.7,606.0C1076.4,606.7 1079.0,607.5 1081.7,608.2C1084.3,609.0 1087.0,609.8 1089.6,610.6C1092.2,611.5 1094.8,612.4 1097.4,613.2C1100.0,614.1 1102.5,615.1 1105.1,616.0C1107.6,617.0 1110.2,618.0 1112.7,619.0C1115.2,620.1 1117.7,621.2 1120.2,622.3C1122.7,623.4 1125.1,624.5 1127.6,625.7C1130.0,626.9 1132.4,628.1 1134.8,629.3C1137.2,630.6 1139.6,631.9 1142.0,633.2C1144.3,634.5 1146.6,635.9 1149.0,637.3C1151.3,638.7 1153.5,640.1 1155.8,641.6C1158.1,643.0 1160.3,644.5 1162.5,646.1C1164.7,647.6 1166.9,649.2 1169.1,650.8C1171.2,652.4 1173.4,654.0 1175.5,655.7C1177.6,657.3 1179.7,659.0 1181.8,660.8C1183.8,662.5 1185.9,664.3 1187.9,666.0C1189.9,667.8 1191.8,669.7 1193.8,671.5C1195.8,673.4 1197.7,675.3 1199.6,677.2C1201.5,679.1 1203.3,681.1 1205.2,683.0C1207.0,685.0 1208.8,687.0 1210.6,689.1C1212.4,691.1 1214.2,693.2 1215.9,695.3C1217.6,697.4 1219.3,699.5 1221.0,701.6C1222.7,703.8 1224.3,705.9 1226.0,708.1C1227.6,710.3 1229.2,712.5 1230.8,714.8C1232.3,717.0 1233.9,719.3 1235.4,721.6C1236.9,723.8 1238.4,726.1 1239.9,728.5C1241.4,730.8 1242.8,733.1 1244.2,735.5C1245.7,737.9 1247.1,740.2 1248.5,742.6C1249.8,745.0 1251.2,747.5 1252.5,749.9C1253.9,752.3 1255.2,754.8 1256.5,757.2C1257.7,759.7 1259.0,762.2 1260.2,764.6C1261.5,767.1 1262.7,769.6 1263.9,772.1C1265.1,774.6 1266.3,777.2 1267.4,779.7C1268.6,782.2 1269.7,784.8 1270.8,787.3C1272.0,789.9 1273.1,792.4 1274.1,795.0C1275.2,797.6 1276.3,800.1 1277.3,802.7C1278.3,805.3 1279.4,807.9 1280.4,810.5C1281.4,813.0 1282.3,815.6 1283.3,818.2C1284.3,820.8 1285.2,823.4 1286.2,826.0C1287.1,828.6 1288.0,831.2 1288.9,833.8C1289.8,836.4 1290.6,839.0 1291.5,841.6C1292.4,844.2 1293.2,846.8 1294.0,849.4C1294.9,852.0 1295.7,854.6 1296.5,857.2C1297.3,859.8 1298.0,862.4 1298.8,865.0C1299.6,867.5 1300.3,870.1 1301.1,872.7C1301.8,875.3 1302.5,877.8 1303.2,880.4C1303.9,882.9 1304.2,883.1 1305.3,888.0C1306.4,892.9 1308.0,903.4 1309.7,909.9C1311.4,916.4 1313.4,922.9 1315.5,927.3C1317.6,931.7 1319.4,934.1 1322.3,936.5C1325.2,938.9 1329.5,940.6 1333.1,941.9C1336.7,943.1 1340.0,943.3 1343.9,944.0C1347.9,944.7 1352.5,945.8 1356.8,946.2C1361.1,946.6 1367.4,946.2 1369.5,946.2" stroke="#000000" stroke-width="4.3" fill="none" stroke-linejoin="round" stroke-linecap="round"/>
<ellipse cx="1207.5" cy="616.5" rx="5.5" ry="3.2" transform="rotate(-30 1207.5 616.5)" fill="#818000"/>
<ellipse cx="1250.5" cy="577.5" rx="4.5" ry="3.5" transform="rotate(-45 1250.5 577.5)" fill="#818000"/>
<ellipse cx="1281.8" cy="537.5" rx="3.8" ry="3.2" transform="rotate(-55 1281.8 537.5)" fill="#818000"/>
<ellipse cx="1309" cy="486.5" rx="3.5" ry="3" transform="rotate(-60 1309 486.5)" fill="#818000"/>
<ellipse cx="1170" cy="699" rx="5" ry="3.5" transform="rotate(25 1170 699)" fill="#818000"/>
<ellipse cx="1088" cy="654" rx="8" ry="2.6" transform="rotate(-8 1088 654)" fill="#818000"/>
<ellipse cx="1088" cy="680.5" rx="9" ry="2.6" transform="rotate(8 1088 680.5)" fill="#818000"/>
</g>
</svg>
</body></html>
